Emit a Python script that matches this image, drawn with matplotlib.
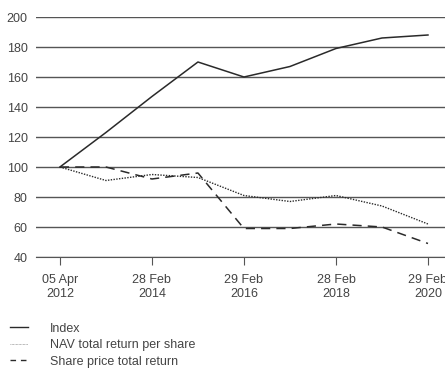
import numpy as np
import matplotlib.pyplot as plt
from matplotlib.lines import Line2D

plt.rcParams['font.family'] = ['Liberation Sans', 'DejaVu Sans']

# dados (um ponto por ano)
anos = np.arange(9)
tick_pos = [0, 2, 4, 6, 8]
tick_labels = ["05 Apr\n2012", "28 Feb\n2014", "29 Feb\n2016", "28 Feb\n2018", "29 Feb\n2020"]
index = [100, 123, 147, 170, 160, 167, 179, 186, 188]
nav = [100, 91, 95, 93, 81, 77, 81, 74, 62]
share_price = [100, 100, 92, 96, 59, 59, 62, 60, 49]

fig = plt.figure(figsize=(4.45, 3.78), dpi=100)
ax = fig.add_axes([36/445, 121/378, 1 - 36/445, 240/378])

cor = "#2a2a2a"
texto = "#444444"
ax.plot(anos, index, color=cor, lw=1.1)
ax.plot(anos, nav, color=cor, lw=1.0, linestyle=(0, (1, 1)))
ax.plot(anos, share_price, color=cor, lw=1.1, linestyle=(0, (6, 4)))

ax.set_xlim(-0.52, 8.37)
ax.set_ylim(40, 200)
ax.set_yticks(range(40, 201, 20))
ax.set_xticks(tick_pos)
ax.set_xticklabels(tick_labels, linespacing=1.3)
ax.grid(True, axis="y", color="#555555", lw=1.0)
ax.set_axisbelow(True)
for s in ["top", "right", "left"]:
    ax.spines[s].set_visible(False)
ax.spines["bottom"].set_color("#555555")
ax.tick_params(axis="y", length=0, pad=6, labelsize=9, labelcolor=texto)
ax.tick_params(axis="x", length=6, color="#555555", pad=6, labelsize=9, labelcolor=texto)

handles = [
    Line2D([], [], color=cor, lw=1.0),
    Line2D([], [], color="#777777", lw=0.5, linestyle=(0, (1, 1))),
    Line2D([], [], color=cor, lw=1.0, linestyle=(0, (4, 3.5))),
]
labels = ["Index", "NAV total return per share", "Share price total return"]
fig.legend(handles, labels, loc="upper left", bbox_to_anchor=(0.022, 0.146),
           frameon=False, fontsize=9, handlelength=1.45, handletextpad=1.75,
           labelspacing=0.36, labelcolor=texto, borderaxespad=0, borderpad=0)

fig.savefig("out.png", dpi=100)
